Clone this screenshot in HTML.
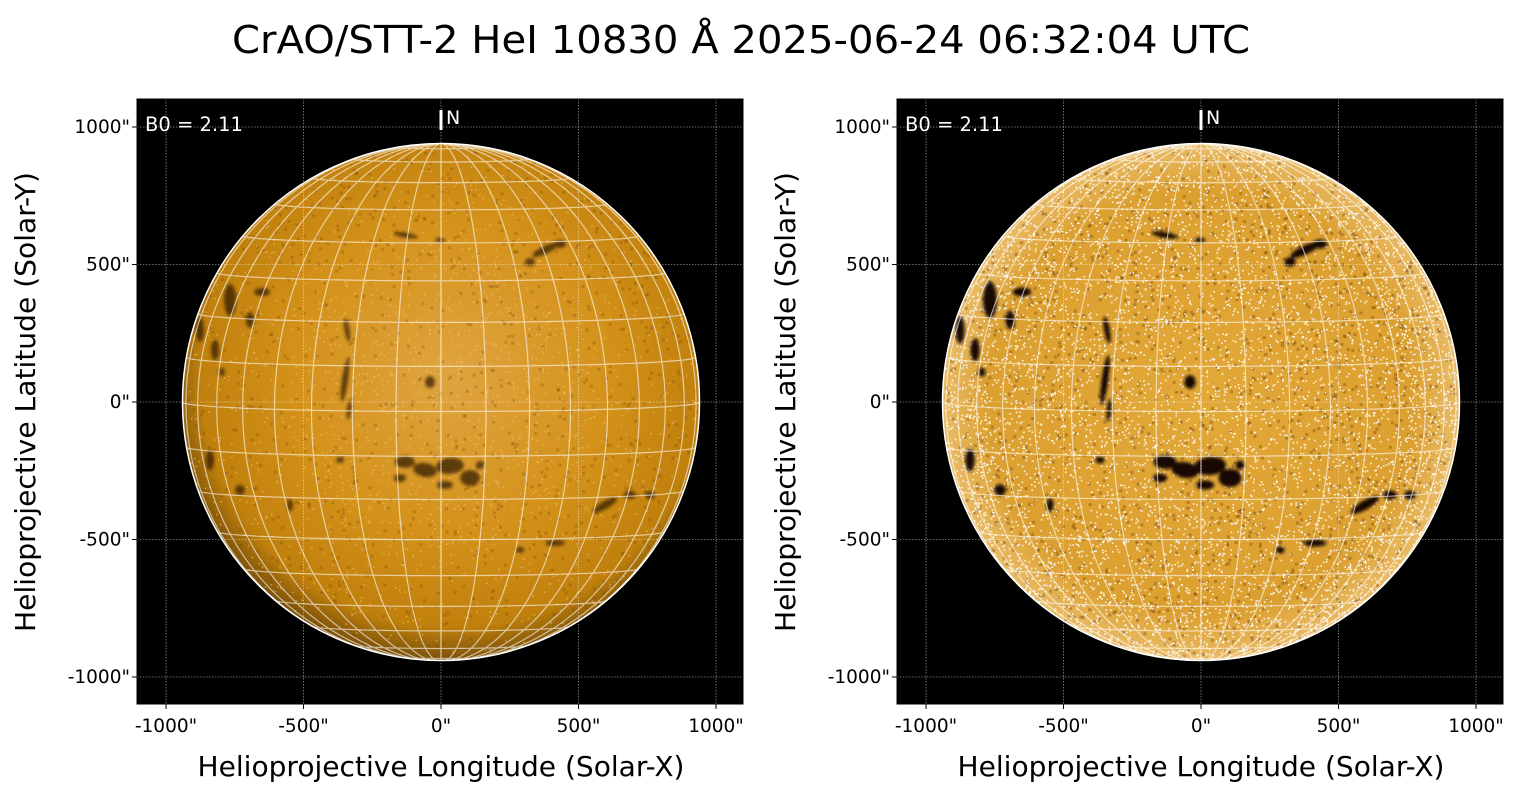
<!DOCTYPE html>
<html><head><meta charset="utf-8"><style>
html,body{margin:0;padding:0;background:#fff;}
svg{display:block;font-family:"DejaVu Sans","Liberation Sans",sans-serif;}
</style></head><body>
<svg id="s" width="1520" height="795" viewBox="0 0 1520 795" xmlns="http://www.w3.org/2000/svg">
<defs>
<radialGradient id="gL" cx="52%" cy="45%" r="55%">
<stop offset="0" stop-color="#e0a440"/><stop offset="0.55" stop-color="#d4921a"/><stop offset="0.88" stop-color="#c0800c"/><stop offset="1" stop-color="#7a5008"/></radialGradient>
<radialGradient id="gR" cx="50%" cy="50%" r="55%">
<stop offset="0" stop-color="#e2a838"/><stop offset="0.75" stop-color="#dca030"/><stop offset="0.93" stop-color="#ecc070"/><stop offset="1" stop-color="#f8e0b0"/></radialGradient>
<filter id="bl"><feGaussianBlur stdDeviation="1.6"/></filter>
<clipPath id="cL"><circle cx="441" cy="402" r="259"/></clipPath>
<clipPath id="cR"><circle cx="1201" cy="402" r="259"/></clipPath>
</defs>
<text x="741" y="53" font-size="38" text-anchor="middle" textLength="1018" lengthAdjust="spacingAndGlyphs" fill="#000">CrAO/STT-2 HeI 10830 Å 2025-06-24 06:32:04 UTC</text>
<g id="root"></g>
</svg>
<script>
var NS="http://www.w3.org/2000/svg",root=document.getElementById('root');
function el(t,a,p){var e=document.createElementNS(NS,t);for(var k in a)e.setAttribute(k,a[k]);(p||root).appendChild(e);return e;}
var seed=7;function rnd(){seed=(seed*16807)%2147483647;return seed/2147483647;}
// cx,cy,rx,ry,rot
var feats=[[347,330,2.5,12,-10],[345,380,3,22,8],[349,410,2,10,5],
[405,462,10,6,0],[425,470,12,7,10],[450,466,14,8,-5],[470,478,10,8,0],[445,485,8,4,0],[400,478,6,4,0],[480,465,4,4,0],
[545,250,14,4,-25],[530,262,5,4,0],[560,244,6,4,0],
[430,382,5,6,0],[405,235,12,2.5,10],[440,240,5,2,0],
[605,505,14,4,-30],[630,495,6,4,0],[650,495,5,4,0],
[555,543,10,3,0],[520,550,4,3,0],
[215,350,4,10,0],[222,372,3,4,0],[210,460,4,10,0],[230,300,6,16,0],[250,320,4,8,0],[200,330,4,12,0],
[262,292,8,4,0],[340,460,4,3,0],[290,505,3,6,0],[240,490,5,5,0]];
function panel(ox,right){
 var x0=ox,x1=ox+606,y0=99,y1=704,cx=ox+304,cy=402,R=259,s=0.275;
 el('rect',{x:x0,y:y0,width:606,height:605,fill:'#000'});
 var g=el('g',{'clip-path':'url(#c'+(right?'R':'L')+')'});
 el('circle',{cx:cx,cy:cy,r:R,fill:'url(#g'+(right?'R':'L')+')'},g);
 // dark mottling
 var n=right?1400:900;
 for(var i=0;i<n;i++){var a=rnd()*6.283,r=Math.sqrt(rnd())*R;
  el('rect',{x:cx+r*Math.cos(a),y:cy+r*Math.sin(a),width:3,height:3,fill:'#6a3a00',opacity:right?0.35:0.25},g);}
 // bright speckle
 n=right?9000:2500;
 for(var i=0;i<n;i++){var a=rnd()*6.283,r=Math.sqrt(rnd())*R;
  var rr=r/R; if(right && rr<0.8 && rnd()<0.35) continue;
  if(!right && rr>0.6 && rnd()<0.6) continue;
  el('rect',{x:cx+r*Math.cos(a),y:cy+r*Math.sin(a),width:1.6,height:1.6,fill:right?'#fff':'#f4c870',opacity:right?0.85:0.55},g);}
 var fg=el('g',{filter:'url(#bl)',opacity:right?0.95:0.7},g);
 feats.forEach(function(f){var X=f[0]+(ox-137);el('ellipse',{cx:X,cy:f[1],rx:f[2]*(right?1.15:1),ry:f[3]*(right?1.15:1),fill:right?'#100500':'#2a1500',transform:'rotate('+f[4]+' '+X+' '+f[1]+')'},fg);});
 // grid
 var B=2.11*Math.PI/180,d='';
 function P(lat,lon){lat*=Math.PI/180;lon*=Math.PI/180;
  var x=Math.cos(lat)*Math.sin(lon),y=Math.sin(lat)*Math.cos(B)-Math.cos(lat)*Math.cos(lon)*Math.sin(B),z=Math.sin(lat)*Math.sin(B)+Math.cos(lat)*Math.cos(lon)*Math.cos(B);
  return [cx+R*x,cy-R*y,z];}
 for(var la=-80;la<=80;la+=10){var st=true;for(var lo=-90;lo<=90;lo+=3){var p=P(la,lo);if(p[2]<0){st=true;continue;}d+=(st?'M':'L')+p[0].toFixed(1)+' '+p[1].toFixed(1);st=false;}}
 for(var lo=-90;lo<=90;lo+=10){var st=true;for(var la=-90;la<=90;la+=3){var p=P(la,lo);if(p[2]<0){st=true;continue;}d+=(st?'M':'L')+p[0].toFixed(1)+' '+p[1].toFixed(1);st=false;}}
 el('path',{d:d,fill:'none',stroke:'#fff',opacity:0.6,'stroke-width':1.2},g);
 el('circle',{cx:cx,cy:cy,r:R-0.5,fill:'none',stroke:'#fff','stroke-width':1.5});
 var vals=[-1000,-500,0,500,1000];
 vals.forEach(function(v){var X=cx+v*s,Y=cy-v*s;
  el('line',{x1:X,y1:y0,x2:X,y2:y1,stroke:'#fff',opacity:0.55,'stroke-width':0.8,'stroke-dasharray':'1.5,1.5'});
  el('line',{x1:x0,y1:Y,x2:x1,y2:Y,stroke:'#fff',opacity:0.55,'stroke-width':0.8,'stroke-dasharray':'1.5,1.5'});
  el('line',{x1:X,y1:y1,x2:X,y2:y1+5,stroke:'#000','stroke-width':1});
  el('line',{x1:x0-5,y1:Y,x2:x0,y2:Y,stroke:'#000','stroke-width':1});
  var t=el('text',{x:X,y:y1+28,'font-size':18.5,'text-anchor':'middle',fill:'#000'});t.textContent=v+'"';
  t=el('text',{x:x0-7,y:Y+6,'font-size':18.5,'text-anchor':'end',fill:'#000'});t.textContent=v+'"';});
 el('rect',{x:x0,y:y0,width:606,height:605,fill:'none',stroke:'#000','stroke-width':1});
 el('line',{x1:cx,y1:110,x2:cx,y2:130,stroke:'#fff','stroke-width':3});
 var t=el('text',{x:cx+5,y:124,'font-size':19,fill:'#fff'});t.textContent='N';
 t=el('text',{x:x0+8,y:131,'font-size':19.5,fill:'#fff'});t.textContent='B0 = 2.11';
 t=el('text',{x:cx,y:776,'font-size':28,'text-anchor':'middle',fill:'#000',textLength:487,lengthAdjust:'spacingAndGlyphs'});t.textContent='Helioprojective Longitude (Solar-X)';
 var tx=x0-102;t=el('text',{x:tx,y:402,'font-size':28,'text-anchor':'middle',fill:'#000',textLength:460,lengthAdjust:'spacingAndGlyphs',transform:'rotate(-90 '+tx+' 402)'});t.textContent='Helioprojective Latitude (Solar-Y)';
}
panel(137,false);panel(897,true);
</script>
</body></html>
